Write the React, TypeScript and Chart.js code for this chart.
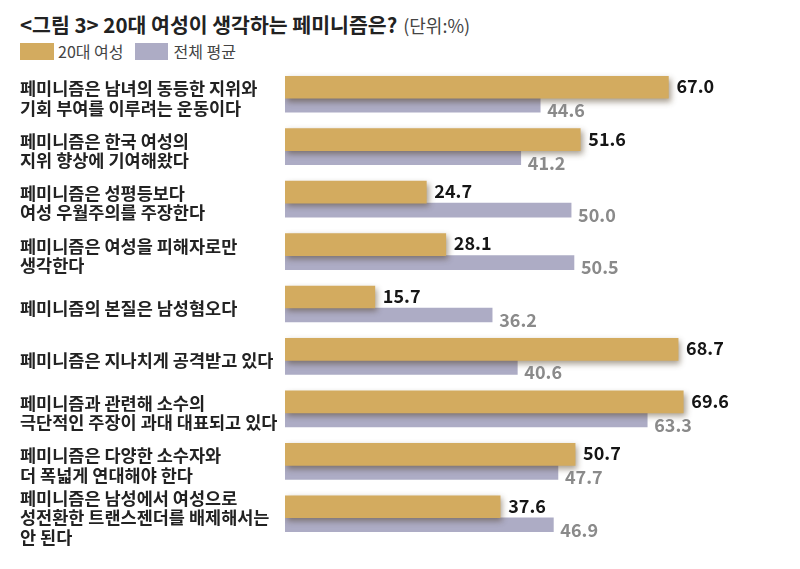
import React, { useEffect, useRef } from "react";
import { Chart, registerables } from "chart.js";

Chart.register(...registerables);

const categories: (string | string[])[] = [
  ["페미니즘은 남녀의 동등한 지위와", "기회 부여를 이루려는 운동이다"],
  ["페미니즘은 한국 여성의", "지위 향상에 기여해왔다"],
  ["페미니즘은 성평등보다", "여성 우월주의를 주장한다"],
  ["페미니즘은 여성을 피해자로만", "생각한다"],
  "페미니즘의 본질은 남성혐오다",
  "페미니즘은 지나치게 공격받고 있다",
  ["페미니즘과 관련해 소수의", "극단적인 주장이 과대 대표되고 있다"],
  ["페미니즘은 다양한 소수자와", "더 폭넓게 연대해야 한다"],
  ["페미니즘은 남성에서 여성으로", "성전환한 트랜스젠더를 배제해서는", "안 된다"],
];

const women20s = [67.0, 51.6, 24.7, 28.1, 15.7, 68.7, 69.6, 50.7, 37.6];
const overall = [44.6, 41.2, 50.0, 50.5, 36.2, 40.6, 63.3, 47.7, 46.9];

const seriesNames = ["20대 여성", "전체 평균"];
const titleText = "<그림 3> 20대 여성이 생각하는 페미니즘은?";
const unitText = "(단위:%)";

const GOLD = "#d3ab5f";
const GRAY = "#adacc5";
const FONT = "'Noto Sans CJK KR', 'Noto Sans', sans-serif";

const shadowPlugin = {
  id: "goldShadow",
  beforeDatasetDraw(chart: any, args: any) {
    if (args.index === 0) {
      const ctx = chart.ctx;
      ctx.save();
      ctx.shadowColor = "rgba(60,40,10,0.45)";
      ctx.shadowBlur = 6;
      ctx.shadowOffsetX = 2;
      ctx.shadowOffsetY = 3;
    }
  },
  afterDatasetDraw(chart: any, args: any) {
    if (args.index === 0) chart.ctx.restore();
  },
};

const valueLabelPlugin = {
  id: "valueLabels",
  afterDatasetsDraw(chart: any) {
    const ctx = chart.ctx;
    ctx.save();
    ctx.textAlign = "left";
    ctx.textBaseline = "middle";
    chart.data.datasets.forEach((ds: any, di: number) => {
      const meta = chart.getDatasetMeta(di);
      meta.data.forEach((bar: any, i: number) => {
        const v = ds.data[i] as number;
        ctx.font = `bold 18px ${FONT}`;
        if (di === 0) {
          ctx.fillStyle = "#151515";
          ctx.fillText(v.toFixed(1), bar.x + 8, bar.y - 1);
        } else {
          ctx.fillStyle = "#8a8a8a";
          ctx.fillText(v.toFixed(1), bar.x + 7, bar.y + 5);
        }
      });
    });
    ctx.restore();
  },
};

export default function App() {
  const ref = useRef<HTMLCanvasElement | null>(null);

  useEffect(() => {
    if (!ref.current) return;
    const chart = new Chart(ref.current, {
      type: "bar",
      data: {
        labels: categories as any,
        datasets: [
          {
            label: seriesNames[0],
            data: women20s,
            backgroundColor: GOLD,
            barThickness: 22,
            borderWidth: 0,
          },
          {
            label: seriesNames[1],
            data: overall,
            backgroundColor: GRAY,
            barThickness: 14,
            borderWidth: 0,
          },
        ],
      },
      options: {
        indexAxis: "y",
        animation: false,
        responsive: false,
        maintainAspectRatio: false,
        events: [],
        layout: { padding: { top: 72, bottom: 25, left: 20, right: 0 } },
        plugins: {
          legend: { display: false },
          tooltip: { enabled: false },
          title: { display: false },
        },
        scales: {
          x: {
            display: false,
            min: 0,
            max: 90,
            grid: { display: false },
          },
          y: {
            grid: { display: false },
            border: { display: false },
            ticks: {
              autoSkip: false,
              crossAlign: "far",
              padding: 0,
              color: "#222",
              font: { family: FONT, size: 17.5, weight: "bold", lineHeight: 1.1 },
            },
            afterFit: (scale: any) => {
              scale.width = 265;
            },
          },
        },
      },
      plugins: [shadowPlugin, valueLabelPlugin],
    });
    return () => chart.destroy();
  }, []);

  return (
    <div style={{ position: "fixed", left: 0, top: 0, width: 800, height: 569, background: "#fff", fontFamily: FONT }}>
      <div style={{ position: "absolute", left: 20, top: 9, whiteSpace: "nowrap", color: "#222", display: "flex", alignItems: "baseline" }}>
        <span style={{ fontSize: 20.5, fontWeight: "bold" }}>{titleText}</span>
        <span style={{ fontSize: 18, color: "#444", marginLeft: 6 }}>{unitText}</span>
      </div>
      <div style={{ position: "absolute", left: 20, top: 39, display: "flex", alignItems: "center", fontSize: 16, color: "#444", whiteSpace: "nowrap" }}>
        <span style={{ display: "inline-block", width: 34, height: 17, background: GOLD }} />
        <span style={{ marginLeft: 4 }}>{seriesNames[0]}</span>
        <span style={{ display: "inline-block", width: 33, height: 17, background: GRAY, marginLeft: 11 }} />
        <span style={{ marginLeft: 6 }}>{seriesNames[1]}</span>
      </div>
      <canvas ref={ref} width={800} height={569} style={{ position: "absolute", left: 0, top: 0 }} />
    </div>
  );
}
